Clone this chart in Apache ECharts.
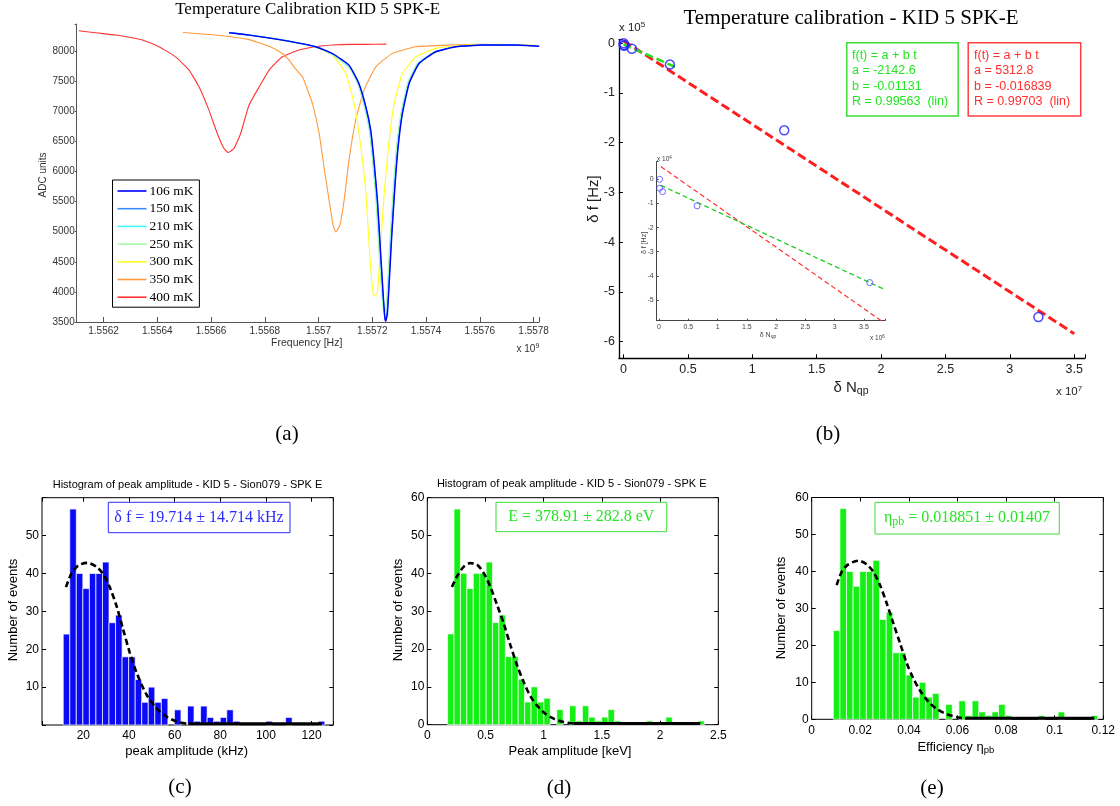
<!DOCTYPE html>
<html><head><meta charset="utf-8">
<script src="https://cdn.jsdelivr.net/npm/echarts@6/dist/echarts.min.js"></script>
<style>html,body{margin:0;padding:0;background:#fff}#c{width:1120px;height:806px}</style>
</head><body><div id="c"></div>
<script>
// ================= DATA =================
// (a) resonance sweeps: [frequency (x1e9 Hz), ADC units]
const tempLabels = ['106 mK','150 mK','210 mK','250 mK','300 mK','350 mK','400 mK'];
const sweep106 = [[1.556667,8304],[1.556741,8266],[1.556865,8183],[1.556989,8072],[1.557051,7960],[1.557113,7767],[1.557150,7463],[1.557176,7074],[1.557194,6687],[1.557206,6188],[1.557219,5523],[1.557231,4637],[1.557241,3915],[1.557247,3556],[1.557250,3512],[1.557256,3639],[1.557262,4082],[1.557272,4913],[1.557284,5745],[1.557296,6409],[1.557312,6964],[1.557337,7463],[1.557374,7795],[1.557436,7989],[1.557511,8072],[1.557610,8100],[1.557734,8100],[1.557821,8080]];
const sweep150 = [[1.556680,8298],[1.556741,8266],[1.556865,8184],[1.556989,8073],[1.557051,7958],[1.557113,7762],[1.557149,7463],[1.557175,7074],[1.557193,6687],[1.557205,6188],[1.557218,5523],[1.557230,4637],[1.557240,3925],[1.557246,3570],[1.557249,3525],[1.557255,3650],[1.557261,4082],[1.557271,4913],[1.557283,5745],[1.557295,6409],[1.557311,6964],[1.557336,7463],[1.557373,7795],[1.557435,7989],[1.557510,8072],[1.557609,8100],[1.557733,8098],[1.557815,8085]];
const sweep210 = [[1.556667,8310],[1.556741,8270],[1.556865,8188],[1.556989,8075],[1.557051,7955],[1.557113,7755],[1.557148,7463],[1.557174,7074],[1.557192,6687],[1.557204,6188],[1.557217,5523],[1.557229,4637],[1.557239,3930],[1.557245,3580],[1.557248,3545],[1.557254,3660],[1.557260,4082],[1.557270,4913],[1.557282,5745],[1.557294,6409],[1.557310,6964],[1.557335,7463],[1.557372,7795],[1.557434,7989],[1.557509,8072],[1.557608,8100],[1.557732,8100],[1.557770,8095]];
const sweep250 = [[1.556667,8300],[1.556741,8262],[1.556865,8178],[1.556989,8065],[1.557051,7940],[1.557113,7730],[1.557145,7463],[1.557170,7074],[1.557188,6687],[1.557200,6188],[1.557213,5523],[1.557225,4637],[1.557235,3960],[1.557241,3680],[1.557244,3640],[1.557250,3720],[1.557256,4082],[1.557266,4913],[1.557278,5745],[1.557290,6409],[1.557306,6964],[1.557331,7463],[1.557368,7795],[1.557430,7989],[1.557505,8072],[1.557604,8100],[1.557728,8100],[1.557800,8085]];
const sweep300 = [[1.556667,8300],[1.556741,8262],[1.556865,8180],[1.556989,8068],[1.557051,7933],[1.557101,7629],[1.557132,7130],[1.557157,6409],[1.557176,5634],[1.557190,4637],[1.557203,3972],[1.557210,3927],[1.557219,3998],[1.557229,4637],[1.557244,5634],[1.557260,6409],[1.557281,7130],[1.557312,7629],[1.557362,7905],[1.557436,8045],[1.557548,8100],[1.557684,8111],[1.557800,8095]];
const sweep350 = [[1.556495,8310],[1.556617,8266],[1.556741,8190],[1.556816,8080],[1.556865,7960],[1.556890,7850],[1.556915,7700],[1.556940,7573],[1.556960,7340],[1.556977,7130],[1.557002,6632],[1.557020,6077],[1.557039,5523],[1.557054,5107],[1.557064,4996],[1.557079,5107],[1.557095,5523],[1.557113,6188],[1.557138,6853],[1.557169,7352],[1.557213,7739],[1.557275,7962],[1.557362,8072],[1.557486,8100],[1.557610,8111],[1.557700,8105]];
const sweep400 = [[1.556108,8337],[1.556180,8300],[1.556245,8266],[1.556300,8225],[1.556344,8183],[1.556406,8072],[1.556468,7905],[1.556518,7684],[1.556555,7406],[1.556592,7019],[1.556623,6632],[1.556648,6382],[1.556664,6316],[1.556685,6382],[1.556710,6632],[1.556741,7100],[1.556779,7406],[1.556816,7684],[1.556865,7905],[1.556927,8017],[1.556989,8072],[1.557051,8100],[1.557113,8111],[1.557176,8111],[1.557252,8116]];

// (b) calibration points: delta N_qp and delta f [Hz]
const dNqp = [1e4, 1e4, 6e4, 6.5e5, 3.6e6, 1.248e7, 3.222e7];
const dfHz = [0, -3700, -5100, -11000, -42800, -175000, -550500];
// fitted lines (end points, raw units)
const redFitMain = [[0, 5300], [3.5e7, -584000]];
const greenFitMain = [[0, -2100], [4.07e6, -48200]];
const redFitInset = [[3e4, 5300], [3.83e6, -59200]];
const greenFitInset = [[3e4, -2500], [3.83e6, -45400]];
const fitGreenText = ['f(t) = a + b t', 'a = -2142.6', 'b = -0.01131', 'R = 0.99563  (lin)'];
const fitRedText = ['f(t) = a + b t', 'a = 5312.8', 'b = -0.016839', 'R = 0.99703  (lin)'];

// (c)(d)(e) histogram counts (40 bins) and bin ranges
const histCounts = [24,57,40,36,40,40,43,27,29,18,18,12,6,10,6,7,0,4,0,5,1,5,2,1,2,4,1,0,0,0,0,1,0,0,2,0,0,0,0,1];
const binRangeC = [11.2, 125.8];     // kHz
const binRangeD = [0.1744, 2.380];   // keV
const binRangeE = [0.00889, 0.1177]; // efficiency
const fitC = [[12.4,36.4],[14.9,40.1],[17.8,42.1],[21.75,42.8],[25.9,41.7],[28.8,39.7],[31.7,36.2],[34.6,31.3],[37.5,25.1],[40.4,19.0],[43.4,13.7],[47.8,7.9],[52.1,4.4],[56.5,2.2],[60.9,0.9],[66,0.3]];
const tailC = [[66,0.3],[124.5,0.3]];
const fitD = [[0.212,36.4],[0.255,39.2],[0.312,41.7],[0.369,42.7],[0.427,42.3],[0.484,40.1],[0.541,36.5],[0.599,31.7],[0.656,26.8],[0.713,21.1],[0.770,15.8],[0.828,11.3],[0.885,7.6],[0.942,5.1],[1.014,2.9],[1.085,1.6],[1.171,0.7],[1.257,0.3]];
const tailD = [[1.257,0.3],[2.345,0.3]];
const fitE = [[0.01029,36.3],[0.01235,39.9],[0.01507,41.9],[0.01918,42.9],[0.02263,41.9],[0.02535,39.9],[0.02811,36.3],[0.03086,31.4],[0.03358,26.0],[0.03634,20.6],[0.03909,15.2],[0.04181,11.1],[0.04457,7.8],[0.04798,4.8],[0.05144,2.8],[0.05556,1.4],[0.06033,0.5],[0.06309,0.3]];
const tailE = [[0.06309,0.3],[0.1163,0.3]];

// ================= STYLE / LAYOUT =================
const SANS = '"Liberation Sans", Arial, Helvetica, sans-serif';
const SERIF = '"Liberation Serif", "Times New Roman", serif';
const sweepColors = ['#0000ff','#3b8cff','#3ff8ff','#a8f5a8','#ffff20','#ff9a3c','#ff3434'];
const sweeps = [sweep106, sweep150, sweep210, sweep250, sweep300, sweep350, sweep400];
const GREEN = '#22e622', RED = '#ff2e2e', BLUE_T = '#2a2aff';

function fmtNum(v) { return String(+(+v).toPrecision(10)); }
function stepFmt(step) {
  return function (v) {
    const k = v / step;
    return Math.abs(k - Math.round(k)) < 1e-6 ? fmtNum(v) : '';
  };
}
function scaled(arr, sx, sy) { return arr.map(p => [p[0] / sx, p[1] / sy]); }

const chart = echarts.init(document.getElementById('c'), null, {renderer: 'canvas'});

const grids = [
  {left: 76.7, top: 24, width: 462.3, height: 298},            // a
  {left: 618.9, top: 39.3, width: 466, height: 319},           // b
  {left: 656.7, top: 161.7, width: 228.3, height: 159},        // inset
  {left: 42, top: 497.7, width: 291.3, height: 227.3, show: true, borderColor: '#000', borderWidth: 1},   // c
  {left: 427.3, top: 497.7, width: 291, height: 227, show: true, borderColor: '#000', borderWidth: 1},    // d
  {left: 811.7, top: 497.5, width: 291.6, height: 221.8, show: true, borderColor: '#000', borderWidth: 1} // e
];

function baseAxis(o) {
  const a = Object.assign({type: 'value', splitLine: {show: false}, scale: false}, o);
  a.axisLine = Object.assign({onZero: false}, a.axisLine || {});
  return a;
}
const histLabel = {fontSize: 12, fontFamily: SANS, color: '#000'};
const histTick = {inside: true, length: 4, lineStyle: {color: '#000', width: 1}};

const xAxes = [
  baseAxis({gridIndex: 0, min: 1.5561, max: 1.55782, splitNumber: 8,
    axisLine: {lineStyle: {color: '#555', width: 1}}, axisTick: {inside: true, length: 5, lineStyle: {color: '#555'}},
    axisLabel: {fontSize: 10, fontFamily: SANS, color: '#333', margin: 4, formatter: stepFmt(0.0002)}}),
  baseAxis({gridIndex: 1, min: -0.036, max: 3.583, splitNumber: 7,
    axisLine: {lineStyle: {color: '#000', width: 1.3}}, axisTick: {inside: true, length: 4, lineStyle: {color: '#000'}},
    axisLabel: {fontSize: 12.5, fontFamily: SANS, color: '#222', margin: 5, formatter: stepFmt(0.5)}}),
  baseAxis({gridIndex: 2, min: -0.04, max: 3.86, splitNumber: 8,
    axisLine: {lineStyle: {color: '#444', width: 1}}, axisTick: {inside: true, length: 2, lineStyle: {color: '#444'}},
    axisLabel: {fontSize: 7, fontFamily: SANS, color: '#444', margin: 3, formatter: stepFmt(0.5)}}),
  baseAxis({gridIndex: 3, min: 1.9, max: 129.5, splitNumber: 6, axisLine: {show: false}, axisTick: histTick,
    axisLabel: Object.assign({margin: 5, formatter: stepFmt(20)}, histLabel)}),
  baseAxis({gridIndex: 4, min: 0, max: 2.5, interval: 0.5, axisLine: {show: false}, axisTick: histTick,
    axisLabel: Object.assign({margin: 5, formatter: stepFmt(0.5)}, histLabel)}),
  baseAxis({gridIndex: 5, min: 0, max: 0.12, interval: 0.02, axisLine: {show: false}, axisTick: histTick,
    axisLabel: Object.assign({margin: 5, formatter: stepFmt(0.02)}, histLabel)}),
  // mirrored top ticks for histograms
  baseAxis({gridIndex: 3, position: 'top', min: 1.9, max: 129.5, splitNumber: 6, axisLine: {show: false}, axisTick: histTick, axisLabel: {show: false}}),
  baseAxis({gridIndex: 4, position: 'top', min: 0, max: 2.5, interval: 0.5, axisLine: {show: false}, axisTick: histTick, axisLabel: {show: false}}),
  baseAxis({gridIndex: 5, position: 'top', min: 0, max: 0.12, interval: 0.02, axisLine: {show: false}, axisTick: histTick, axisLabel: {show: false}})
];
const yAxes = [
  baseAxis({gridIndex: 0, min: 3500, max: 8450, splitNumber: 10,
    axisLine: {lineStyle: {color: '#555', width: 1}}, axisTick: {show: true, inside: false, length: 2, lineStyle: {color: '#555'}},
    axisLabel: {fontSize: 10, fontFamily: SANS, color: '#333', margin: 2, formatter: stepFmt(500)}}),
  baseAxis({gridIndex: 1, min: -6.335, max: 0.08, splitNumber: 6,
    axisLine: {lineStyle: {color: '#000', width: 1.3}}, axisTick: {inside: true, length: 4, lineStyle: {color: '#000'}},
    axisLabel: {fontSize: 12.5, fontFamily: SANS, color: '#222', margin: 4, formatter: stepFmt(1)}}),
  baseAxis({gridIndex: 2, min: -5.86, max: 0.73, splitNumber: 6,
    axisLine: {lineStyle: {color: '#444', width: 1}}, axisTick: {inside: true, length: 2, lineStyle: {color: '#444'}},
    axisLabel: {fontSize: 7, fontFamily: SANS, color: '#444', margin: 3, formatter: stepFmt(1)}}),
  baseAxis({gridIndex: 3, min: 0, max: 60, interval: 10, axisLine: {show: false}, axisTick: histTick,
    axisLabel: Object.assign({margin: 3, formatter: v => (v > 0 && v < 60) ? String(v) : ''}, histLabel)}),
  baseAxis({gridIndex: 4, min: 0, max: 60, interval: 10, axisLine: {show: false}, axisTick: histTick,
    axisLabel: Object.assign({margin: 3}, histLabel)}),
  baseAxis({gridIndex: 5, min: 0, max: 60, interval: 10, axisLine: {show: false}, axisTick: histTick,
    axisLabel: Object.assign({margin: 3}, histLabel)}),
  baseAxis({gridIndex: 3, position: 'right', min: 0, max: 60, interval: 10, axisLine: {show: false}, axisTick: histTick, axisLabel: {show: false}}),
  baseAxis({gridIndex: 4, position: 'right', min: 0, max: 60, interval: 10, axisLine: {show: false}, axisTick: histTick, axisLabel: {show: false}}),
  baseAxis({gridIndex: 5, position: 'right', min: 0, max: 60, interval: 10, axisLine: {show: false}, axisTick: histTick, axisLabel: {show: false}})
];

const series = [];
// (a) sweeps: draw hottest first so 106 mK ends on top
for (let i = sweeps.length - 1; i >= 0; i--) {
  series.push({type: 'line', name: tempLabels[i], xAxisIndex: 0, yAxisIndex: 0, data: sweeps[i],
    symbol: 'none', showSymbol: false, smooth: 0.15, color: sweepColors[i],
    lineStyle: {color: sweepColors[i], width: i === 0 ? 1.4 : 1.1}, z: 2 + (7 - i) * 0.01});
}
// (b) main
const ptsMain = dNqp.map((x, i) => [x / 1e7, dfHz[i] / 1e5]);
const ptsInset = dNqp.map((x, i) => [x / 1e6, dfHz[i] / 1e4]);
series.push({type: 'line', xAxisIndex: 1, yAxisIndex: 1, data: scaled(redFitMain, 1e7, 1e5), symbol: 'none',
  lineStyle: {color: '#ff1e1e', width: 3, type: [9, 4]}, z: 3});
series.push({type: 'line', xAxisIndex: 1, yAxisIndex: 1, data: scaled(greenFitMain, 1e7, 1e5), symbol: 'none',
  lineStyle: {color: '#22dd22', width: 2.5, type: [8, 4]}, z: 3});
series.push({type: 'scatter', xAxisIndex: 1, yAxisIndex: 1, data: ptsMain, symbol: 'circle', symbolSize: 9,
  itemStyle: {color: 'rgba(0,0,0,0)', borderColor: '#2020ff', borderWidth: 1.5}, z: 4});
// (b) inset
series.push({type: 'line', xAxisIndex: 2, yAxisIndex: 2, data: scaled(redFitInset, 1e6, 1e4), symbol: 'none',
  lineStyle: {color: '#ff3030', width: 1.2, type: [5, 3]}, z: 3});
series.push({type: 'line', xAxisIndex: 2, yAxisIndex: 2, data: scaled(greenFitInset, 1e6, 1e4), symbol: 'none',
  lineStyle: {color: '#22cc22', width: 1.3, type: [5, 3]}, z: 3});
series.push({type: 'scatter', xAxisIndex: 2, yAxisIndex: 2, data: ptsInset, clip: true, symbol: 'circle', symbolSize: 6,
  itemStyle: {color: 'rgba(0,0,0,0)', borderColor: '#4a4aff', borderWidth: 1}, z: 4});

// histograms
function histSeries(xi, yi, range, color) {
  const n = histCounts.length, w = (range[1] - range[0]) / n;
  const data = histCounts.map((c, i) => [range[0] + i * w, range[0] + (i + 1) * w, c]);
  return {type: 'custom', xAxisIndex: xi, yAxisIndex: yi, data: data, encode: {x: [0, 1], y: 2}, z: 2,
    renderItem: function (params, api) {
      const c = api.value(2);
      if (!c) return {type: 'group', children: []};
      const a = api.coord([api.value(0), c]);
      const b = api.coord([api.value(1), 0]);
      return {type: 'rect', shape: {x: a[0], y: a[1], width: b[0] - a[0], height: b[1] - a[1]},
        style: {fill: color, stroke: '#ffffff', lineWidth: 0.7}};
    }};
}
series.push(histSeries(3, 3, binRangeC, '#0a0af5'));
series.push(histSeries(4, 4, binRangeD, '#14f014'));
series.push(histSeries(5, 5, binRangeE, '#14f014'));
[[3, fitC, tailC], [4, fitD, tailD], [5, fitE, tailE]].forEach(function (s) {
  series.push({type: 'line', xAxisIndex: s[0], yAxisIndex: s[0], data: s[1], symbol: 'none', smooth: 0.3,
    lineStyle: {color: '#000', width: 2.6, type: [6, 3.5]}, z: 5});
  series.push({type: 'line', xAxisIndex: s[0], yAxisIndex: s[0], data: s[2], symbol: 'none',
    lineStyle: {color: '#000', width: 3}, z: 5});
});

// ---------- text / annotation graphics ----------
function T(x, y, text, size, family, color, opts) {
  opts = opts || {};
  const el = {type: 'text', x: x, y: y, z: 100, rotation: opts.rot || 0, silent: true,
    style: {text: text, fontSize: size, fontFamily: family, fill: color,
      textAlign: opts.align || 'center', align: opts.align || 'center',
      textVerticalAlign: 'middle', verticalAlign: 'middle'}};
  if (opts.rich) el.style.rich = opts.rich;
  return el;
}
function richSS(size, subSize, family, color) {
  return {
    m: {fontSize: size, fontFamily: family, fill: color, lineHeight: Math.round(size * 1.2)},
    s: {fontSize: subSize, fontFamily: family, fill: color, verticalAlign: 'bottom', lineHeight: subSize},
    p: {fontSize: subSize, fontFamily: family, fill: color, verticalAlign: 'top', lineHeight: subSize}
  };
}
function box(x, y, w, h, color, lw) {
  return {type: 'rect', z: 99, silent: true, shape: {x: x, y: y, width: w, height: h},
    style: {fill: '#fff', stroke: color, lineWidth: lw}};
}
const R90 = Math.PI / 2;
const g = [];
// (a)
g.push(T(307.7, 10, 'Temperature Calibration KID 5 SPK-E', 17, SERIF, '#000'));
g.push(T(42.9, 175, 'ADC units', 10, SANS, '#333', {rot: R90}));
g.push(T(306.7, 343.5, 'Frequency [Hz]', 10.5, SANS, '#333'));
g.push(T(516.5, 349, '{m|x 10}{p|9}', 10, SANS, '#333', {align: 'left', rich: richSS(10, 7, SANS, '#333')}));
g.push(T(287, 434, '(a)', 21, SERIF, '#000'));
// (b)
g.push(T(851, 18.5, 'Temperature calibration - KID 5 SPK-E', 21, SERIF, '#000'));
g.push(T(619, 28, '{m|x 10}{p|5}', 11.5, SANS, '#222', {align: 'left', rich: richSS(11.5, 8, SANS, '#222')}));
g.push(T(594, 199, 'δ f [Hz]', 15, SANS, '#222', {rot: R90}));
g.push(T(851, 388, '{m|δ N}{s|qp}', 15, SANS, '#222', {rich: richSS(15, 10.5, SANS, '#222')}));
g.push(T(1056, 392, '{m|x 10}{p|7}', 11.5, SANS, '#222', {align: 'left', rich: richSS(11.5, 8, SANS, '#222')}));
g.push(T(828, 434, '(b)', 21, SERIF, '#000'));
g.push(box(846.8, 42.7, 111.4, 73.3, '#3cdc3c', 1.5));
g.push(box(968.2, 42.7, 112.5, 73.3, '#ff4040', 1.5));
const lineYs = [55.5, 71, 86.3, 101.5];
fitGreenText.forEach((t, i) => g.push(T(852, lineYs[i], t, 12.5, SANS, GREEN, {align: 'left'})));
fitRedText.forEach((t, i) => g.push(T(974, lineYs[i], t, 12.5, SANS, RED, {align: 'left'})));
// inset labels
g.push(T(657, 159.5, '{m|x 10}{p|4}', 6.5, SANS, '#444', {align: 'left', rich: richSS(6.5, 4.5, SANS, '#444')}));
g.push(T(644, 243, 'δ f [Hz]', 7, SANS, '#444', {rot: R90}));
g.push(T(768, 335, '{m|δ N}{s|qp}', 7, SANS, '#444', {rich: richSS(7, 5, SANS, '#444')}));
g.push(T(870, 338, '{m|x 10}{p|6}', 6.5, SANS, '#444', {align: 'left', rich: richSS(6.5, 4.5, SANS, '#444')}));
// (c)
const histTitle = 'Histogram of peak amplitude - KID 5 - Sion079 - SPK E';
g.push(T(187.5, 485, histTitle, 11, SANS, '#000'));
g.push(T(13.5, 610, 'Number of events', 13, SANS, '#000', {rot: R90}));
g.push(T(186.7, 751, 'peak amplitude (kHz)', 13, SANS, '#000'));
g.push(box(108.3, 502.3, 181.7, 30.4, '#2a2aff', 1));
g.push(T(199, 517.5, 'δ f = 19.714 ± 14.714 kHz', 16, SERIF, BLUE_T));
g.push(T(180, 787, '(c)', 21, SERIF, '#000'));
// (d)
g.push(T(571.7, 484, histTitle, 11, SANS, '#000'));
g.push(T(398.3, 610, 'Number of events', 13, SANS, '#000', {rot: R90}));
g.push(T(570, 751, 'Peak amplitude [keV]', 13, SANS, '#000'));
g.push(box(496, 502.3, 170.7, 29.4, '#3cdc3c', 1));
g.push(T(581.3, 517, 'E = 378.91 ± 282.8 eV', 16, SERIF, GREEN));
g.push(T(559, 788, '(d)', 21, SERIF, '#000'));
// (e)
g.push(T(781.7, 608, 'Number of events', 13, SANS, '#000', {rot: R90}));
g.push(T(955.8, 747, '{m|Efficiency η}{s|pb}', 13, SANS, '#000', {rich: richSS(13, 9.5, SANS, '#000')}));
g.push(box(875, 502.3, 184.3, 31.7, '#3cdc3c', 1));
g.push(T(967, 518, '{m|η}{s|pb}{m| = 0.018851 ± 0.01407}', 16, SERIF, GREEN, {rich: richSS(16, 12, SERIF, GREEN)}));
g.push(T(932, 788, '(e)', 21, SERIF, '#000'));

const option = {
  animation: false,
  backgroundColor: '#fff',
  grid: grids,
  xAxis: xAxes,
  yAxis: yAxes,
  legend: {
    data: tempLabels, orient: 'vertical', left: 112.5, top: 180,
    backgroundColor: '#fff', borderColor: '#000', borderWidth: 1, borderRadius: 0,
    padding: [4, 6, 3, 5], itemGap: 3.7, itemWidth: 29, itemHeight: 1.6, icon: 'rect',
    textStyle: {fontFamily: SERIF, fontSize: 13.5, lineHeight: 14, color: '#000', padding: [0, 0, 0, -2]},
    selectedMode: false, z: 10
  },
  series: series,
  graphic: {elements: g}
};
chart.setOption(option);
</script>
</body></html>
